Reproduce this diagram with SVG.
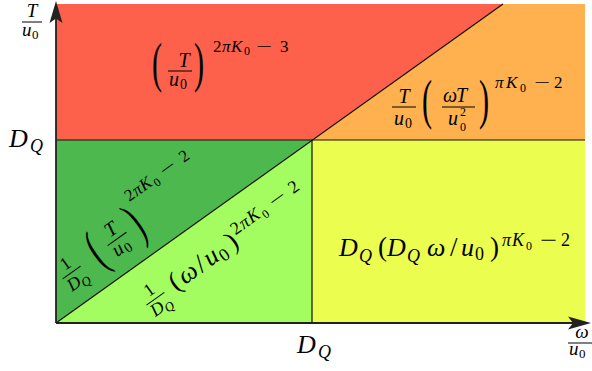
<svg xmlns="http://www.w3.org/2000/svg" width="592" height="371" viewBox="0 0 592 371">
<style>
  .mi { font-family: "Liberation Serif", serif; font-style: italic; fill: #000; }
  .mn { font-family: "Liberation Serif", serif; fill: #000; }
  .bp { font-family: "Liberation Serif", serif; font-size: 55px; fill: #000; }
  .bar { stroke: #000; stroke-width: 1; }
  .edge { stroke: #111; stroke-width: 1.2; fill: none; }
  .axis { stroke: #222; stroke-width: 1.8; fill: none; }
  .head { fill: #222; }
</style>
<rect width="592" height="371" fill="#fff"/>

<g id="region-red">
  <polygon points="56,4 503,4 312,140 56,140" fill="#fe614b"/>
  <g id="label-red">
    <text class="bp" transform="translate(152,81) scale(0.55,1)">(</text>
    <text class="mi" x="184" y="67" font-size="20" text-anchor="middle">T</text>
    <line class="bar" x1="168" y1="71" x2="192" y2="71"/>
    <text class="mi" x="169" y="86" font-size="20">u</text>
    <text class="mn" x="180" y="89" font-size="14">0</text>
    <text class="bp" transform="translate(194,81) scale(0.55,1)">)</text>
    <text class="mn" x="213" y="52" font-size="17">2</text>
    <text class="mi" x="222" y="52" font-size="17">π</text>
    <text class="mi" x="231" y="52" font-size="17">K</text>
    <text class="mn" x="244" y="55" font-size="12">0</text>
    <text class="mn" x="256" y="52" font-size="17" textLength="16" lengthAdjust="spacingAndGlyphs">−</text>
    <text class="mn" x="280" y="52" font-size="17">3</text>
  </g>
</g>

<g id="region-orange">
  <polygon points="503,4 585,4 585,140 312,140" fill="#feb14e"/>
  <g id="label-orange">
    <text class="mi" x="404" y="103" font-size="20" text-anchor="middle">T</text>
    <line class="bar" x1="392" y1="107" x2="416" y2="107"/>
    <text class="mi" x="394" y="125" font-size="20">u</text>
    <text class="mn" x="405" y="128" font-size="14">0</text>
    <text class="bp" transform="translate(422,118) scale(0.55,1)" font-size="58">(</text>
    <text class="mi" x="443" y="102" font-size="20">ω</text>
    <text class="mi" x="456" y="102" font-size="20">T</text>
    <line class="bar" x1="442" y1="107" x2="475" y2="107"/>
    <text class="mi" x="448" y="125" font-size="20">u</text>
    <text class="mn" x="460" y="116" font-size="12">2</text>
    <text class="mn" x="460" y="131" font-size="12">0</text>
    <text class="bp" transform="translate(479,118) scale(0.55,1)" font-size="58">)</text>
    <text class="mi" x="495" y="88" font-size="17">π</text>
    <text class="mi" x="506" y="88" font-size="17">K</text>
    <text class="mn" x="520" y="92" font-size="12">0</text>
    <text class="mn" x="534" y="88" font-size="17" textLength="16" lengthAdjust="spacingAndGlyphs">−</text>
    <text class="mn" x="554" y="88" font-size="17">2</text>
  </g>
</g>

<g id="region-darkgreen">
  <polygon points="56,140 312,140 56,323" fill="#4cb84d"/>
  <g id="label-darkgreen" transform="translate(56,323) rotate(-35.5)">
    <text class="mn" x="42" y="-37" font-size="18" text-anchor="middle">1</text>
    <line class="bar" x1="31" y1="-32" x2="53" y2="-32"/>
    <text class="mi" x="31" y="-16" font-size="18">D</text>
    <text class="mi" x="44" y="-12" font-size="13">Q</text>
    <text class="bp" transform="translate(69,-19) scale(0.55,1)">(</text>
    <text class="mi" x="99" y="-38" font-size="20" text-anchor="middle">T</text>
    <line class="bar" x1="87" y1="-33" x2="110" y2="-33"/>
    <text class="mi" x="88" y="-18" font-size="20">u</text>
    <text class="mn" x="99" y="-15" font-size="14">0</text>
    <text class="bp" transform="translate(117,-19) scale(0.55,1)">)</text>
    <text class="mn" x="130" y="-56" font-size="17">2</text>
    <text class="mi" x="139" y="-56" font-size="17">π</text>
    <text class="mi" x="148" y="-56" font-size="17">K</text>
    <text class="mn" x="161" y="-52" font-size="12">0</text>
    <text class="mn" x="173" y="-56" font-size="17" textLength="16" lengthAdjust="spacingAndGlyphs">−</text>
    <text class="mn" x="197" y="-56" font-size="17">2</text>
  </g>
</g>

<g id="region-lightgreen">
  <polygon points="56,323 312,140 312,323" fill="#a4fd60"/>
  <g id="label-lightgreen" transform="translate(56,323) rotate(-35.5)">
    <text class="mn" x="95" y="33" font-size="18" text-anchor="middle">1</text>
    <line class="bar" x1="84" y1="38" x2="106" y2="38"/>
    <text class="mi" x="84" y="53" font-size="18">D</text>
    <text class="mi" x="97" y="57" font-size="13">Q</text>
    <text class="mn" x="116" y="44" font-size="27">(</text>
    <text class="mi" x="127" y="44" font-size="26">ω</text>
    <text class="mn" x="148" y="44" font-size="27">/</text>
    <text class="mi" x="158" y="44" font-size="26">u</text>
    <text class="mn" x="172" y="48" font-size="18">0</text>
    <text class="mn" x="186" y="44" font-size="27">)</text>
    <text class="mn" x="197" y="33" font-size="18">2</text>
    <text class="mi" x="207" y="33" font-size="18">π</text>
    <text class="mi" x="217" y="33" font-size="18">K</text>
    <text class="mn" x="231" y="37" font-size="12">0</text>
    <text class="mn" x="244" y="33" font-size="18" textLength="17" lengthAdjust="spacingAndGlyphs">−</text>
    <text class="mn" x="268" y="33" font-size="18">2</text>
  </g>
</g>

<g id="region-yellow">
  <polygon points="312,140 585,140 585,323 312,323" fill="#ebfd4f"/>
  <g id="label-yellow">
    <text class="mi" x="339" y="256" font-size="26">D</text>
    <text class="mi" x="359" y="262" font-size="18">Q</text>
    <text class="mn" x="378" y="256" font-size="27">(</text>
    <text class="mi" x="387" y="256" font-size="26">D</text>
    <text class="mi" x="407" y="262" font-size="18">Q</text>
    <text class="mi" x="427" y="256" font-size="26">ω</text>
    <text class="mn" x="450" y="256" font-size="27">/</text>
    <text class="mi" x="461" y="256" font-size="26">u</text>
    <text class="mn" x="475" y="260" font-size="18">0</text>
    <text class="mn" x="490" y="256" font-size="27">)</text>
    <text class="mi" x="502" y="246" font-size="18">π</text>
    <text class="mi" x="512" y="246" font-size="18">K</text>
    <text class="mn" x="526" y="250" font-size="12">0</text>
    <text class="mn" x="540" y="246" font-size="18" textLength="17" lengthAdjust="spacingAndGlyphs">−</text>
    <text class="mn" x="561" y="246" font-size="18">2</text>
  </g>
</g>

<g id="connectors">
  <line class="edge" x1="56" y1="140" x2="585" y2="140"/>
  <line class="edge" x1="56" y1="323" x2="503" y2="4"/>
  <line class="edge" x1="312" y1="140" x2="312" y2="323"/>
  <line class="axis" x1="56" y1="323" x2="56" y2="18"/>
  <line class="axis" x1="56" y1="323" x2="574" y2="323"/>
  <path class="head" d="M56,1 L62.5,23 L56,18.5 L49.5,23 Z"/>
  <path class="head" d="M591,323 L568,316.5 L573,323 L568,329.5 Z"/>
</g>

<g id="axis-labels">
  <g id="label-y">
    <text class="mi" x="32" y="17" font-size="19" text-anchor="middle">T</text>
    <line class="bar" x1="22" y1="22" x2="42" y2="22"/>
    <text class="mi" x="22" y="36" font-size="19">u</text>
    <text class="mn" x="32" y="39" font-size="13">0</text>
  </g>
  <g id="label-dq-left">
    <text class="mi" x="9" y="147" font-size="26">D</text>
    <text class="mi" x="30" y="152" font-size="18">Q</text>
  </g>
  <g id="label-dq-bottom">
    <text class="mi" x="297" y="353" font-size="26">D</text>
    <text class="mi" x="318" y="358" font-size="18">Q</text>
  </g>
  <g id="label-x">
    <text class="mi" x="582" y="338" font-size="19" text-anchor="middle">ω</text>
    <line class="bar" x1="568" y1="343" x2="592" y2="343"/>
    <text class="mi" x="569" y="355" font-size="19">u</text>
    <text class="mn" x="579" y="358" font-size="13">0</text>
  </g>
</g>
</svg>
